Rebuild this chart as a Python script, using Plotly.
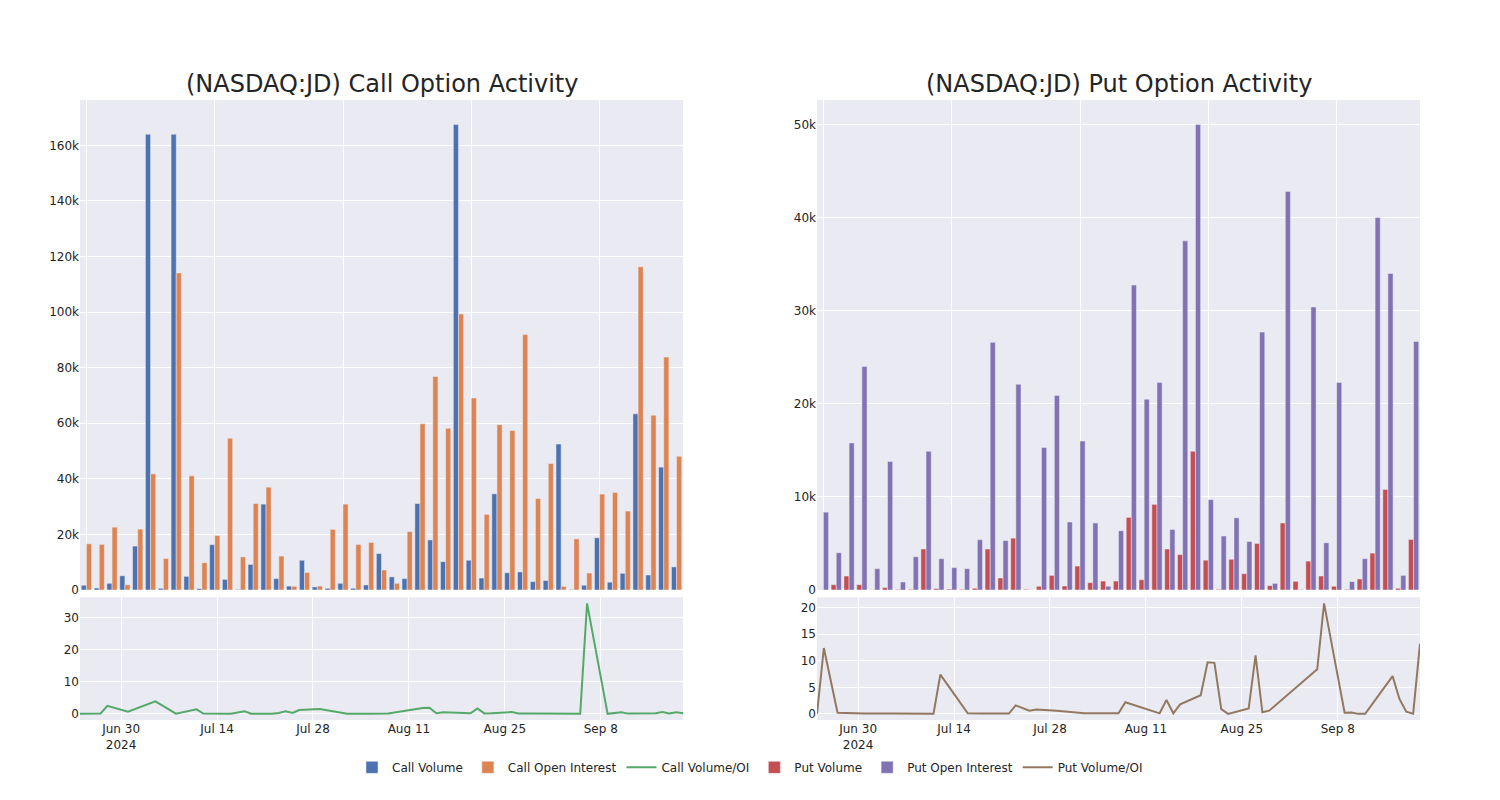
import plotly.graph_objects as go

dates = ["2024-06-24", "2024-06-25", "2024-06-27", "2024-06-28", "2024-07-01", "2024-07-05",
         "2024-07-08", "2024-07-11", "2024-07-12", "2024-07-16", "2024-07-18", "2024-07-19",
         "2024-07-22", "2024-07-23", "2024-07-24", "2024-07-25", "2024-07-26", "2024-07-29",
         "2024-08-02", "2024-08-05", "2024-08-06", "2024-08-07", "2024-08-08", "2024-08-13",
         "2024-08-14", "2024-08-15", "2024-08-16", "2024-08-19", "2024-08-20", "2024-08-21",
         "2024-08-22", "2024-08-23", "2024-08-26", "2024-08-27", "2024-08-28", "2024-08-29",
         "2024-09-05", "2024-09-06", "2024-09-09", "2024-09-10", "2024-09-11", "2024-09-12",
         "2024-09-16", "2024-09-17", "2024-09-18", "2024-09-19", "2024-09-20"]

call_volume = [1700, 700, 2400, 5100, 15800, 164000, 600, 164000, 4900, 500, 16300, 3800,
               200, 9200, 30900, 4100, 1400, 10700, 1100, 600, 2400, 600, 1800, 13100,
               4700, 4100, 31100, 18000, 10200, 167500, 10700, 4300, 34600, 6200, 6500, 3000,
               3400, 52500, 200, 1700, 18800, 2800, 6000, 63400, 5400, 44200, 8300]

call_oi = [16600, 16400, 22600, 1900, 21900, 41800, 11300, 114100, 41100, 9800, 19600, 54600,
           11900, 31100, 37000, 12200, 1300, 6300, 1400, 21800, 30900, 16400, 17100, 7200,
           2400, 21000, 59800, 76800, 58200, 99300, 69100, 27200, 59500, 57400, 91900, 32900,
           45500, 1300, 18400, 6100, 34500, 35100, 28400, 116300, 62900, 83800, 48100]

call_ratio = [0.05, 0.04, 0.1, 2.5, 0.7, 3.9, 0.05, 1.4, 0.1, 0.05, 0.8, 0.07,
              0.0, 0.3, 0.8, 0.3, 1.2, 1.5, 0.05, 0.02, 0.07, 0.03, 0.1, 1.8,
              1.9, 0.2, 0.5, 0.25, 0.2, 1.7, 0.15, 0.2, 0.55, 0.1, 0.07, 0.09,
              0.07, 34.5, 0.0, 0.3, 0.5, 0.08, 0.2, 0.55, 0.09, 0.5, 0.17]

put_volume = [20, 570, 1500, 570, 20, 250, 70, 70, 4400, 140, 100, 70,
              180, 4400, 1290, 5570, 70, 400, 1570, 430, 2570, 790, 960, 960,
              7800, 1100, 9200, 4400, 3800, 14900, 3200, 70, 3300, 1750, 5000, 460,
              7200, 930, 3100, 1500, 400, 70, 1180, 3960, 10800, 180, 5430]

put_oi = [8360, 4000, 15800, 24000, 2290, 13800, 860, 3570, 14900, 3360, 2400, 2290,
          5400, 26600, 5300, 22100, 20, 15300, 20900, 7300, 16000, 7200, 400, 6360,
          32750, 20500, 22300, 6500, 37500, 50000, 9700, 5800, 7750, 5200, 27700, 710,
          42800, 45, 30400, 5070, 22300, 900, 3360, 40000, 34000, 1570, 26700]

put_ratio = [0.0, 12.4, 0.2, 0.15, 0.05, 0.05, 0.02, 0.0, 7.4, 0.1, 0.05, 0.03,
             0.05, 1.6, 1.1, 0.6, 0.8, 0.6, 0.1, 0.1, 0.05, 0.1, 2.2, 0.1,
             2.6, 0.1, 1.8, 3.5, 9.7, 9.6, 0.9, 0.0, 1.0, 11.0, 0.3, 0.6,
             8.4, 20.8, 0.2, 0.25, 0.0, 0.02, 7.1, 2.8, 0.4, 0.05, 13.2]

titles = ["(NASDAQ:JD) Call Option Activity", "(NASDAQ:JD) Put Option Activity"]

fig = go.Figure()

fig.add_trace(go.Bar(x=dates, y=call_volume, name="Call Volume", xaxis="x", yaxis="y"))
fig.add_trace(go.Bar(x=dates, y=call_oi, name="Call Open Interest", xaxis="x", yaxis="y"))
fig.add_trace(go.Scatter(x=dates, y=call_ratio, name="Call Volume/OI", mode="lines",
                         xaxis="x3", yaxis="y3"))
fig.add_trace(go.Bar(x=dates, y=put_volume, name="Put Volume", xaxis="x2", yaxis="y2"))
fig.add_trace(go.Bar(x=dates, y=put_oi, name="Put Open Interest", xaxis="x2", yaxis="y2"))
fig.add_trace(go.Scatter(x=dates, y=put_ratio, name="Put Volume/OI", mode="lines",
                         xaxis="x4", yaxis="y4"))

left_dom = [0, 0.45]
right_dom = [0.55, 1]
top_dom = [0.2097, 1]
bot_dom = [0, 0.198]

cat_axis = dict(type="category", showticklabels=False, tickmode="linear", tick0=0, dtick=10)

fig.update_layout(
    template="seaborn",
    width=1500, height=800,
    font=dict(family="DejaVu Sans"),
    margin=dict(l=72, r=88, t=92, b=88),
    barmode="group",
    xaxis=dict(domain=left_dom, anchor="y", **cat_axis),
    yaxis=dict(domain=top_dom, anchor="x"),
    xaxis2=dict(domain=right_dom, anchor="y2", **cat_axis),
    yaxis2=dict(domain=top_dom, anchor="x2"),
    xaxis3=dict(domain=left_dom, anchor="y3", type="date"),
    yaxis3=dict(domain=bot_dom, anchor="x3"),
    xaxis4=dict(domain=right_dom, anchor="y4", type="date"),
    yaxis4=dict(domain=bot_dom, anchor="x4"),
    legend=dict(orientation="h", x=0.5, xanchor="center", y=-0.053, yanchor="top"),
    annotations=[
        dict(text=titles[0], x=0.225, y=1.026, xref="paper", yref="paper",
             xanchor="center", yanchor="middle", showarrow=False, font=dict(size=24)),
        dict(text=titles[1], x=0.775, y=1.026, xref="paper", yref="paper",
             xanchor="center", yanchor="middle", showarrow=False, font=dict(size=24)),
    ],
)

fig.write_html("out.html")
